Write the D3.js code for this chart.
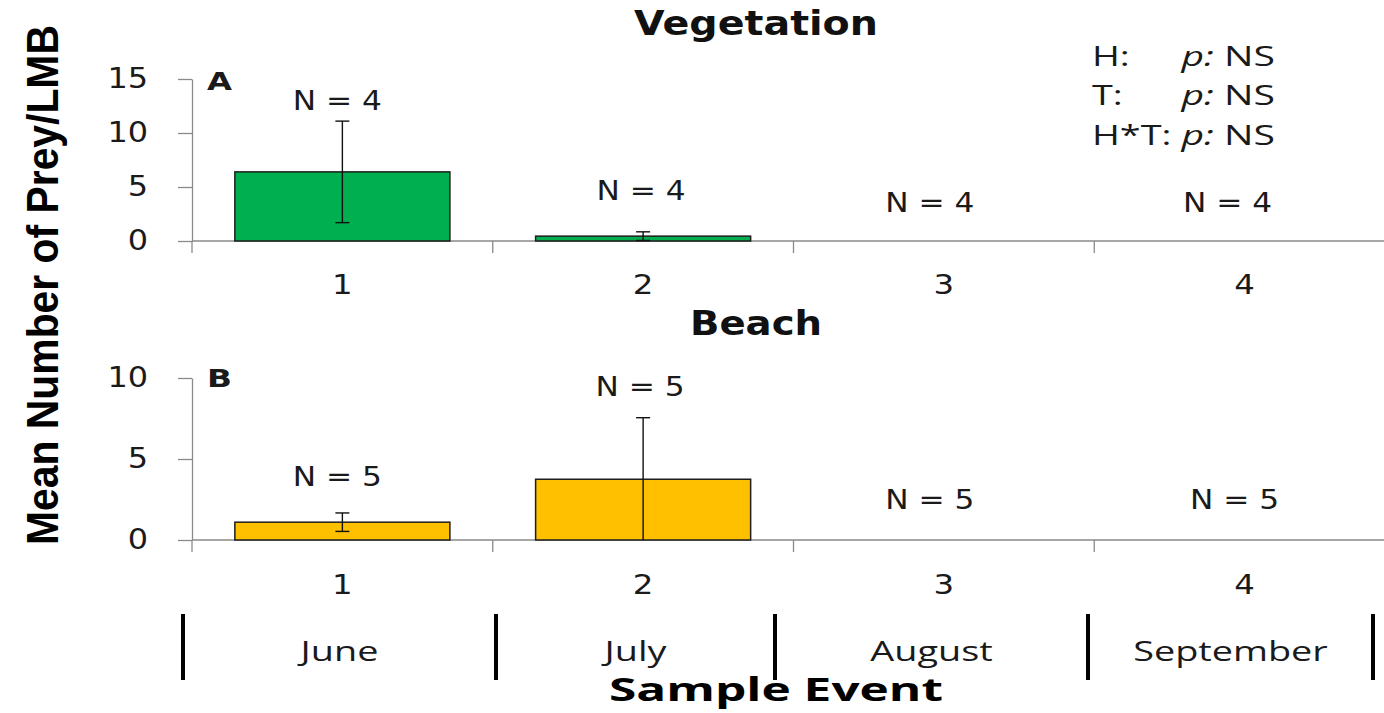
<!DOCTYPE html>
<html><head><meta charset="utf-8">
<script src="https://cdn.jsdelivr.net/npm/d3@7"></script>
<style>body{margin:0;background:#fff} svg{display:block}</style>
</head><body><svg id="c" width="1384" height="713"></svg>
<script>
// ---------- data ----------
const events = ["1", "2", "3", "4"];
const months = ["June", "July", "August", "September"];
const vegMean = [6.4, 0.45, 0, 0];
const vegErr = [4.7, 0.4, 0, 0];
const vegN = [4, 4, 4, 4];
const beachMean = [1.1, 3.75, 0, 0];
const beachErr = [0.57, 3.8, 0, 0];
const beachN = [5, 5, 5, 5];
const vegTicks = [0, 5, 10, 15];
const beachTicks = [0, 5, 10];
const statLabels = ["H:", "T:", "H*T:"];
const statValues = ["NS", "NS", "NS"];

// ---------- drawing ----------
const svg = d3.select("#c");
const TXT = "#1a1a1a", AX = "#8a8a8a";
const x = d3.scaleBand().domain(events).range([192, 1395]);
const barFrac = 0.715;

function stretch(sel, f) {
  sel.each(function () {
    const L = this.getComputedTextLength();
    this.setAttribute("textLength", L * f);
    this.setAttribute("lengthAdjust", "spacingAndGlyphs");
  });
}
function fit(sel, w) {
  sel.attr("textLength", w).attr("lengthAdjust", "spacingAndGlyphs");
}

function panel(cfg) {
  const y = d3.scaleLinear().domain([0, cfg.max]).range([cfg.y0, cfg.y1]);
  const g = svg.append("g");
  const x0 = x.range()[0], x1 = x.range()[1];

  // y axis
  const ya = g.append("g").attr("transform", `translate(${x0},0)`)
    .call(d3.axisLeft(y).tickValues(cfg.ticks).tickSize(14).tickSizeOuter(0).tickPadding(30));
  ya.select(".domain").attr("stroke", AX).attr("stroke-width", 1.3);
  ya.selectAll(".tick line").attr("stroke", AX).attr("stroke-width", 1.3);
  ya.selectAll(".tick text").attr("fill", TXT)
    .style("font-family", "'DejaVu Sans', Verdana, sans-serif").style("font-size", "28px")
    .call(stretch, 1.14);

  // x axis line + boundary ticks
  g.append("line").attr("x1", x0).attr("x2", 1384).attr("y1", cfg.y0).attr("y2", cfg.y0)
    .attr("stroke", AX).attr("stroke-width", 1.3);
  g.selectAll("line.bt").data(events.map(e => x(e)).concat([x1])).join("line")
    .attr("class", "bt").attr("x1", d => d).attr("x2", d => d)
    .attr("y1", cfg.y0).attr("y2", cfg.y0 + 12).attr("stroke", AX).attr("stroke-width", 1.3);

  // category labels
  const xa = g.append("g").attr("transform", `translate(0,${cfg.y0})`)
    .call(d3.axisBottom(x).tickSize(0).tickPadding(cfg.labPad));
  xa.select(".domain").remove();
  xa.selectAll(".tick text").attr("fill", TXT)
    .style("font-family", "'DejaVu Sans', Verdana, sans-serif").style("font-size", "27px")
    .call(stretch, 1.2);

  const bw = x.bandwidth() * barFrac;
  const cx = e => x(e) + x.bandwidth() / 2;

  // bars
  g.selectAll("rect.bar").data(events.filter((e, i) => cfg.mean[i] > 0)).join("rect")
    .attr("class", "bar")
    .attr("x", e => cx(e) - bw / 2).attr("width", bw)
    .attr("y", e => y(cfg.mean[events.indexOf(e)]))
    .attr("height", e => cfg.y0 - y(cfg.mean[events.indexOf(e)]))
    .attr("fill", cfg.color).attr("stroke", "#1e1e1e").attr("stroke-width", 1.5);

  // error bars
  const eb = g.selectAll("g.eb").data(events.filter((e, i) => cfg.err[i] > 0)).join("g").attr("class", "eb");
  eb.each(function (e) {
    const i = events.indexOf(e), m = cfg.mean[i], s = cfg.err[i];
    const hi = m + s, lo = Math.max(0, m - s);
    const gg = d3.select(this);
    gg.append("line").attr("x1", cx(e)).attr("x2", cx(e)).attr("y1", y(lo)).attr("y2", y(hi))
      .attr("stroke", "#111").attr("stroke-width", 1.4);
    gg.append("line").attr("x1", cx(e) - 7).attr("x2", cx(e) + 7).attr("y1", y(hi)).attr("y2", y(hi))
      .attr("stroke", "#111").attr("stroke-width", 1.4);
    if (m - s > 0) gg.append("line").attr("x1", cx(e) - 7).attr("x2", cx(e) + 7).attr("y1", y(lo)).attr("y2", y(lo))
      .attr("stroke", "#111").attr("stroke-width", 1.4);
  });

  // N labels
  g.selectAll("text.n").data(events).join("text").attr("class", "n")
    .attr("x", (e, i) => cx(e) + cfg.ndx[i])
    .attr("y", (e, i) => y(cfg.mean[i] + cfg.err[i]) - cfg.ndy[i])
    .attr("text-anchor", "middle").attr("fill", TXT)
    .style("font-family", "'DejaVu Sans', Verdana, sans-serif").style("font-size", "26px")
    .text((e, i) => "N = " + cfg.n[i])
    .call(stretch, 1.2);

  // panel letter
  g.append("text").attr("x", 207).attr("y", cfg.letterY).attr("fill", TXT)
    .style("font-family", "'DejaVu Sans', Verdana, sans-serif").style("font-weight", "bold").style("font-size", "25px")
    .text(cfg.letter).call(fit, 25);

  // title
  g.append("text").attr("x", 756).attr("y", cfg.titleY).attr("text-anchor", "middle").attr("fill", "#111")
    .style("font-family", "'DejaVu Sans', Verdana, sans-serif").style("font-weight", "bold").style("font-size", "33px")
    .text(cfg.title).call(fit, cfg.titleW);
}

panel({ mean: vegMean, err: vegErr, n: vegN, ticks: vegTicks, max: 15, y0: 241, y1: 79,
  color: "#00b050", labPad: 34, ndy: [11, 32, 29, 29], ndx: [-5, -2, -14, -17],
  letter: "A", letterY: 90, title: "Vegetation", titleY: 35, titleW: 244 });
panel({ mean: beachMean, err: beachErr, n: beachN, ticks: beachTicks, max: 10, y0: 540, y1: 378,
  color: "#ffc000", labPad: 35, ndy: [27, 22, 31, 31], ndx: [-5, -3, -14, -10],
  letter: "B", letterY: 387, title: "Beach", titleY: 335, titleW: 132 });

// statistics legend
const leg = svg.append("g");
const rowY = [66, 105, 145];
leg.selectAll("text.sl").data(statLabels).join("text").attr("class", "sl")
  .attr("x", 1092).attr("y", (d, i) => rowY[i]).attr("fill", TXT)
  .style("font-family", "'Open Sans', sans-serif").style("font-size", "27px")
  .text(d => d).call(stretch, 1.4);
const sv = leg.selectAll("text.sv").data(statValues).join("text").attr("class", "sv")
  .attr("x", 1275).attr("y", (d, i) => rowY[i]).attr("text-anchor", "end").attr("fill", TXT)
  .style("font-family", "'Open Sans', sans-serif").style("font-size", "27px");
sv.append("tspan").style("font-style", "italic").text("p:");
sv.append("tspan").text(d => " " + d);
sv.call(stretch, 1.45);

// month strip
const sepX = [183, 496, 775, 1088, 1373];
svg.selectAll("line.sep").data(sepX).join("line").attr("class", "sep")
  .attr("x1", d => d).attr("x2", d => d).attr("y1", 614).attr("y2", 680)
  .attr("stroke", "#000").attr("stroke-width", 4);
svg.selectAll("text.m").data(months).join("text").attr("class", "m")
  .attr("x", (d, i) => (sepX[i] + sepX[i + 1]) / 2).attr("y", 661)
  .attr("text-anchor", "middle").attr("fill", TXT)
  .style("font-family", "'Open Sans', sans-serif").style("font-size", "27px")
  .text(d => d).call(stretch, 1.4);

// axis titles
svg.append("text").attr("x", 776).attr("y", 701).attr("text-anchor", "middle").attr("fill", "#000")
  .style("font-family", "'Open Sans', sans-serif").style("font-weight", "bold").style("font-size", "33px")
  .text("Sample Event").call(fit, 334);
const yt = svg.append("text").attr("text-anchor", "middle").attr("fill", "#000")
  .style("font-family", "'Liberation Sans Narrow', 'Arial Narrow', 'Liberation Sans', sans-serif")
  .style("font-weight", "bold").style("font-size", "45px")
  .text("Mean Number of Prey/LMB");
const ytL = yt.node().getComputedTextLength();
yt.attr("transform", `translate(58,285) rotate(-90) scale(${520 / ytL},1)`);
</script>
</body></html>
